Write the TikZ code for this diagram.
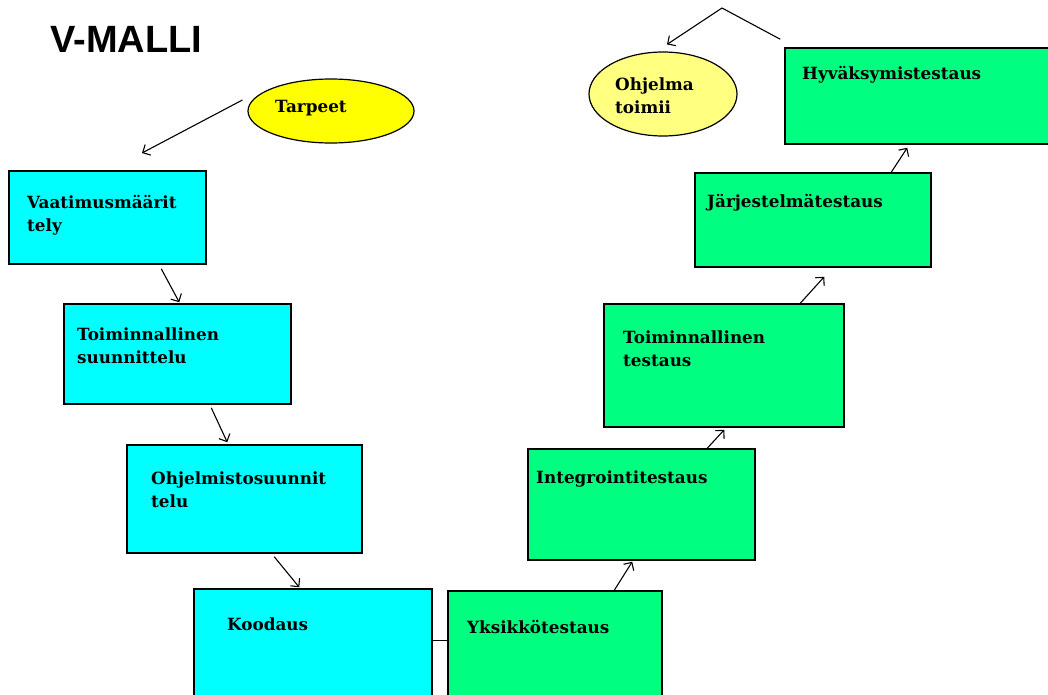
\documentclass[tikz,border=0pt]{standalone}
\usepackage{fontspec}
\setmainfont{DejaVu Serif}
\newfontfamily\headfont{Liberation Sans}
\usetikzlibrary{shapes.geometric,arrows.meta,calc}
\definecolor{phasecyan}{RGB}{0,255,255}
\definecolor{phasegreen}{RGB}{0,255,128}
\definecolor{goalyellow}{RGB}{255,255,0}
\definecolor{doneyellow}{RGB}{255,255,128}
\tikzset{
  stage/.style={draw=black, line width=1.5pt, rectangle, inner sep=0pt},
  design/.style={stage, fill=phasecyan},
  testing/.style={stage, fill=phasegreen},
  oval/.style={draw=black, line width=1.2pt, ellipse, inner sep=0pt},
  lbl/.style={anchor=base west, inner sep=0pt, align=left, text width=230pt,
    font=\bfseries\fontsize{16.8}{23}\selectfont},
  flow/.style={line width=1.1pt, -{Straight Barb[length=6pt,width=12pt]}},
  plain/.style={line width=1.1pt},
}
\begin{document}
\begin{tikzpicture}[x=1pt,y=-1pt]
\useasboundingbox (0,0) rectangle (1048,694);
\clip (0,0) rectangle (1048,694);

% heading
\node[anchor=base west, inner sep=0pt, font=\headfont\bfseries\fontsize{38}{40}\selectfont] (title) at (50,52) {V-MALLI};

% left branch: specification and design
\node[design, minimum width=197pt, minimum height=93pt]  (vaat)   at (107.5,217.5) {};
\node[design, minimum width=227pt, minimum height=100pt] (tsuun)  at (177.5,354) {};
\node[design, minimum width=235pt, minimum height=108pt] (ohsuun) at (244.5,499) {};
\node[design, minimum width=238pt, minimum height=131pt] (kood)   at (313,654.5) {};

% right branch: testing
\node[testing, minimum width=214pt, minimum height=129pt] (yks)   at (555,655.5) {};
\node[testing, minimum width=227pt, minimum height=111pt] (integ) at (641.5,504.5) {};
\node[testing, minimum width=240pt, minimum height=123pt] (ttest) at (724,365.5) {};
\node[testing, minimum width=236pt, minimum height=94pt]  (jarj)  at (813,220) {};
\node[testing, minimum width=285pt, minimum height=96pt]  (hyv)   at (927.5,96) {};

% start and end ovals
\node[oval, fill=goalyellow, minimum width=166pt, minimum height=64pt] (tarpeet) at (331,111) {};
\node[oval, fill=doneyellow, minimum width=148pt, minimum height=84pt] (toimii)  at (663,94) {};

% box texts
\node[lbl] (vaatT)   at (27,208)  {Vaatimusmäärit\\tely};
\node[lbl] (tsuunT)  at (77,340)  {Toiminnallinen\\suunnittelu};
\node[lbl] (ohsuunT) at (151,484) {Ohjelmistosuunnit\\telu};
\node[lbl] (koodT)   at (227,630) {Koodaus};
\node[lbl] (yksT)    at (467,633) {Yksikkötestaus};
\node[lbl] (integT)  at (536,483) {Integrointitestaus};
\node[lbl] (ttestT)  at (623,343) {Toiminnallinen\\testaus};
\node[lbl] (jarjT)   at (707,207) {Järjestelmätestaus};
\node[lbl] (hyvT)    at (802,79)  {Hyväksymistestaus};
\node[lbl] (tarpeetT) at (275,112) {Tarpeet};
\node[lbl] (toimiiT)  at (615,90)  {Ohjelma\\toimii};

% loose ends of the outer arrows
\coordinate (reqin) at (142,153);
\coordinate (peak) at (722,8);

% connectors
\draw[flow] ($(tarpeet.west)+(-5,-11)$) -- (reqin);
\draw[flow] ($(vaat.south west)+(153,4)$)   -- ($(tsuun.north west)+(116,-1)$);
\draw[flow] ($(tsuun.south west)+(148,3)$)  -- ($(ohsuun.north west)+(101,-2)$);
\draw[flow] ($(ohsuun.south west)+(148,3)$) -- ($(kood.north west)+(106,-1)$);
\draw[plain] ($(kood.north east)+(0,52)$)   -- ($(yks.north west)+(0,50)$);
\draw[flow] ($(yks.north west)+(167,0)$)    -- ($(integ.south west)+(105,1)$);
\draw[flow] ($(integ.north west)+(180,0)$)  -- ($(ttest.south west)+(121,2)$);
\draw[flow] ($(ttest.north west)+(197,0)$)  -- ($(jarj.south west)+(130,9)$);
\draw[flow] ($(jarj.north west)+(197,0)$)   -- ($(hyv.south west)+(123,3)$);
\draw[flow] ($(hyv.north west)+(-4,-8)$) -- (peak) -- ($(toimii.north)+(4,-7)$);
\end{tikzpicture}
\end{document}
